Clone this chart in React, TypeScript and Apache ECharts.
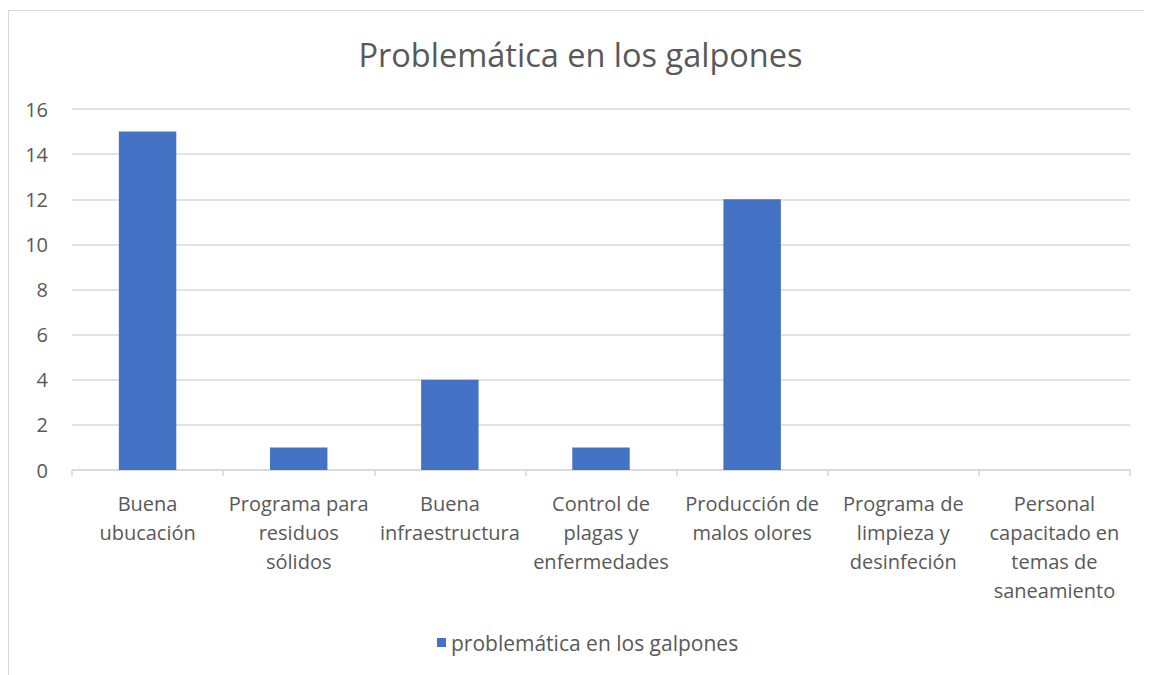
import React, { useEffect, useRef } from "react";
import * as echarts from "echarts";

const titleText = "Problemática en los galpones";
const seriesName = "problemática en los galpones";
const categories = [
  "Buena\nubucación",
  "Programa para\nresiduos\nsólidos",
  "Buena\ninfraestructura",
  "Control de\nplagas y\nenfermedades",
  "Producción de\nmalos olores",
  "Programa de\nlimpieza y\ndesinfeción",
  "Personal\ncapacitado en\ntemas de\nsaneamiento",
];
const values = [15, 1, 4, 1, 12, 0, 0];
const yMin = 0;
const yMax = 16;
const yStep = 2;

const FONT = "'Open Sans', sans-serif";
const TXT = "#595959";
const GRID = "#d9d9d9";

export default function App() {
  const ref = useRef<HTMLDivElement>(null);
  useEffect(() => {
    if (!ref.current) return;
    const chart = echarts.init(ref.current, undefined, { renderer: "svg" });
    chart.setOption({
      animation: false,
      textStyle: { fontFamily: FONT },
      title: {
        text: titleText,
        left: "center",
        top: 22,
        textStyle: { fontFamily: FONT, fontSize: 32.5, fontWeight: "normal", color: TXT },
      },
      legend: {
        bottom: 17,
        left: 423,
        itemWidth: 9,
        itemHeight: 9,
        icon: "rect",
        itemGap: 8,
        textStyle: { fontFamily: FONT, fontSize: 21, color: TXT },
        data: [seriesName],
      },
      grid: { left: 63, right: 22, top: 98, bottom: 205 },
      xAxis: {
        type: "category",
        data: categories,
        axisLine: { lineStyle: { color: GRID, width: 1.5 } },
        axisTick: { show: true, length: 6, lineStyle: { color: GRID, width: 1.5 } },
        axisLabel: {
          interval: 0,
          color: TXT,
          fontFamily: FONT,
          fontSize: 20,
          lineHeight: 29,
          margin: 19,
        },
      },
      yAxis: {
        type: "value",
        min: yMin,
        max: yMax,
        interval: yStep,
        axisLine: { show: false },
        axisTick: { show: false },
        splitLine: { lineStyle: { color: GRID, width: 1.5 } },
        axisLabel: { color: TXT, fontFamily: FONT, fontSize: 20, margin: 24 },
      },
      series: [
        {
          name: seriesName,
          type: "bar",
          data: values,
          barCategoryGap: "62%",
          itemStyle: { color: "#4472C4" },
        },
      ],
    });
    return () => chart.dispose();
  }, []);
  return (
    <div
      style={{
        marginTop: 2,
        width: 1144,
        height: 665,
        borderTop: "1px solid #d9d9d9",
        borderLeft: "1px solid #d9d9d9",
        boxSizing: "border-box",
        background: "#fff",
      }}
    >
      <div ref={ref} style={{ width: 1143, height: 664 }} />
    </div>
  );
}
